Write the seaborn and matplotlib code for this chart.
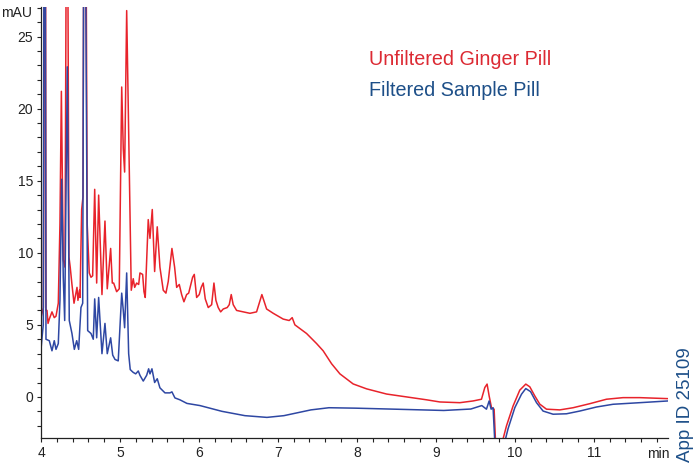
import matplotlib
matplotlib.use("Agg")
import matplotlib.pyplot as plt
from matplotlib.ticker import MultipleLocator
import numpy as np
import pandas as pd
import seaborn as sns

# Retention time (min) and absorbance (mAU) for the unfiltered ginger pill
red_time = [4.0, 4.03, 4.045, 4.051, 4.058, 4.063, 4.076, 4.089, 4.105, 4.139, 4.168, 4.19,
            4.219, 4.24, 4.258, 4.282, 4.304, 4.316, 4.327, 4.34, 4.354, 4.37, 4.392, 4.418,
            4.456, 4.468, 4.487, 4.494, 4.515, 4.532, 4.545, 4.553, 4.565, 4.585, 4.611, 4.633,
            4.654, 4.68, 4.705, 4.73, 4.772, 4.81, 4.839, 4.882, 4.903, 4.92, 4.958, 4.991,
            5.022, 5.042, 5.059, 5.085, 5.143, 5.168, 5.186, 5.211, 5.237, 5.253, 5.287, 5.304,
            5.32, 5.358, 5.38, 5.409, 5.439, 5.472, 5.506, 5.548, 5.582, 5.611, 5.658, 5.692,
            5.718, 5.751, 5.781, 5.81, 5.844, 5.87, 5.92, 5.941, 5.971, 6.004, 6.029, 6.054,
            6.08, 6.118, 6.161, 6.19, 6.215, 6.244, 6.275, 6.308, 6.358, 6.384, 6.409, 6.434,
            6.477, 6.561, 6.646, 6.73, 6.797, 6.857, 6.941, 7.067, 7.143, 7.181, 7.215, 7.363,
            7.49, 7.573, 7.68, 7.785, 7.953, 8.123, 8.376, 8.629, 8.882, 9.051, 9.304, 9.472,
            9.578, 9.62, 9.649, 9.675, 9.705, 9.738, 9.759, 9.79, 9.823, 9.895, 9.978, 10.063,
            10.139, 10.19, 10.253, 10.316, 10.401, 10.57, 10.738, 10.949, 11.161, 11.371,
            11.582, 11.94]
red_mau = [5.5, 6.2, 30, 60, 30, 6.0, 6.0, 5.1, 5.4, 5.9, 5.5, 5.6,
           6.5, 12, 21.2, 9.5, 9.0, 25, 60, 30, 9.7, 9.0, 7.8, 6.5,
           7.6, 6.7, 7.4, 6.9, 13.0, 13.9, 40, 60, 40, 12, 8.6, 8.3,
           8.4, 14.4, 7.9, 14.0, 7.1, 12.2, 7.5, 10.3, 7.9, 7.9, 7.3, 7.5,
           21.5, 17.2, 15.6, 26.8, 7.4, 8.2, 7.6, 7.9, 7.8, 8.6, 8.5, 7.3,
           6.9, 12.3, 11.0, 13.0, 8.7, 11.8, 9.0, 7.4, 7.2, 8.0, 10.3, 9.0,
           7.6, 7.8, 7.1, 6.6, 7.1, 7.2, 8.3, 8.5, 6.9, 7.1, 7.6, 7.9,
           6.8, 6.2, 6.4, 7.9, 6.7, 6.2, 5.9, 6.1, 6.2, 6.4, 7.1, 6.4,
           6.0, 5.9, 5.8, 5.9, 7.1, 6.1, 5.8, 5.4, 5.3, 5.5, 5.0, 4.4,
           3.7, 3.2, 2.3, 1.6, 0.9, 0.56, 0.2, 0.0, -0.2, -0.35, -0.4, -0.28,
           -0.16, 0.65, 0.89, 0.07, -0.75, -0.85, -3.5, -8, -3.5, -2.0, -0.63, 0.47,
           0.89, 0.7, 0.07, -0.5, -0.85, -0.9, -0.75, -0.47, -0.16, -0.05,
           -0.05, -0.12]

# Retention time (min) and absorbance (mAU) for the filtered sample pill
blue_time = [4.0, 4.013, 4.029, 4.04, 4.048, 4.055, 4.063, 4.105, 4.139, 4.168, 4.19, 4.219,
             4.24, 4.262, 4.282, 4.3, 4.333, 4.358, 4.392, 4.422, 4.452, 4.477, 4.506, 4.528,
             4.545, 4.553, 4.565, 4.591, 4.633, 4.662, 4.68, 4.705, 4.73, 4.772, 4.81, 4.839,
             4.882, 4.908, 4.937, 4.978, 5.022, 5.042, 5.059, 5.085, 5.11, 5.13, 5.148, 5.168,
             5.199, 5.232, 5.253, 5.295, 5.338, 5.363, 5.38, 5.405, 5.439, 5.472, 5.506, 5.57,
             5.633, 5.658, 5.696, 5.759, 5.848, 6.013, 6.291, 6.582, 6.861, 7.076, 7.418, 7.646,
             7.982, 8.544, 9.101, 9.443, 9.582, 9.641, 9.675, 9.7, 9.725, 9.75, 9.79, 9.832,
             9.915, 10.0, 10.085, 10.139, 10.199, 10.275, 10.358, 10.485, 10.654, 10.823,
             11.034, 11.244, 11.582, 11.94]
blue_mau = [3.3, 4.1, 5.0, 40, 60, 30, 4.0, 3.9, 3.2, 3.9, 3.3, 3.7,
            6.7, 15.1, 8.3, 5.3, 22.9, 5.3, 4.4, 3.3, 3.9, 3.3, 6.2, 6.5,
            40, 60, 30, 4.6, 4.4, 4.0, 6.8, 4.1, 6.9, 3.0, 5.1, 3.0,
            4.1, 2.9, 2.6, 2.5, 7.2, 6.0, 4.8, 8.6, 3.0, 1.9, 1.8, 1.7,
            1.6, 1.8, 1.5, 1.1, 1.5, 1.95, 1.6, 1.95, 1.0, 1.26, 0.63, 0.28,
            0.28, 0.35, -0.07, -0.2, -0.45, -0.6, -1.0, -1.3, -1.42, -1.3, -0.9, -0.75,
            -0.78, -0.86, -0.94, -0.84, -0.6, -0.85, -0.28, -0.85, -0.75, -3.5, -8, -4,
            -2.2, -0.75, 0.19, 0.58, 0.37, -0.4, -0.98, -1.2, -1.17, -0.98,
            -0.7, -0.51, -0.4, -0.28]

series_names = ["Unfiltered Ginger Pill", "Filtered Sample Pill"]
line_colors = ["#e8232b", "#2e47a3"]
text_colors = ["#dc2a33", "#1d4f88"]

sns.set_style("ticks")
plt.rcParams["font.family"] = ["Liberation Sans", "DejaVu Sans"]

fig = plt.figure(figsize=(6.94, 4.66), dpi=100)
ax = fig.add_axes([41 / 694, 1 - 438 / 466, (668 - 41) / 694, (438 - 7) / 466])

red_df = pd.DataFrame({"time": red_time, "mAU": red_mau})
blue_df = pd.DataFrame({"time": blue_time, "mAU": blue_mau})

sns.lineplot(data=red_df, x="time", y="mAU", ax=ax, color=line_colors[0],
             lw=1.1, sort=False, estimator=None)
sns.lineplot(data=blue_df, x="time", y="mAU", ax=ax, color=line_colors[1],
             lw=1.1, sort=False, estimator=None)

ax.set_xlim(4.0, 11.94)
ax.set_ylim(-2.85, 27.05)
ax.set_xlabel("")
ax.set_ylabel("")

ax.xaxis.set_major_locator(MultipleLocator(1))
ax.xaxis.set_minor_locator(MultipleLocator(0.2))
ax.yaxis.set_major_locator(MultipleLocator(5))
ax.yaxis.set_minor_locator(MultipleLocator(1))
ax.tick_params(which="both", direction="out", length=2.6, width=0.8, color="#222222")
ax.tick_params(which="major", labelsize=10, pad=3, labelcolor="#222222")
ax.set_xticks([4, 5, 6, 7, 8, 9, 10, 11])

sns.despine(ax=ax)
for side in ("left", "bottom"):
    ax.spines[side].set_linewidth(0.9)
    ax.spines[side].set_color("#222222")

fig.text(32 / 694, 1 - 13 / 466, "mAU", ha="right", va="center", fontsize=10, color="#222222")
fig.text(670 / 694, 1 - 454 / 466, "min", ha="right", va="center", fontsize=10, color="#222222")

fig.text(369 / 694, 1 - 60 / 466, series_names[0], ha="left", va="center",
         fontsize=14.2, color=text_colors[0])
fig.text(369 / 694, 1 - 91 / 466, series_names[1], ha="left", va="center",
         fontsize=14.2, color=text_colors[1])

fig.text(686 / 694, 1 - 405 / 466, "App ID 25109", rotation=90, ha="center", va="center",
         fontsize=13.5, color=text_colors[1])

fig.savefig("out.png", dpi=100)
